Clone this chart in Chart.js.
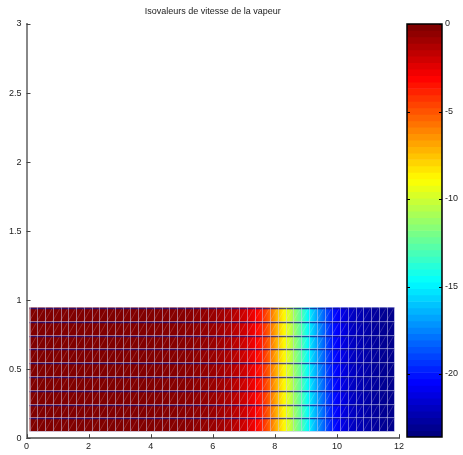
<!DOCTYPE html>
<html>
<head>
<meta charset="utf-8">
<script src="https://cdn.jsdelivr.net/npm/chart.js@4.4.1/dist/chart.umd.min.js"></script>
<style>
    html, body { margin: 0; padding: 0; background: #fff; }
    #wrap { position: relative; width: 463px; height: 455px; }
    #meshChart { position: absolute; left: 0; top: 0; }
    #cbarChart { position: absolute; left: 400px; top: 0; }
</style>
</head>
<body>
<div id="wrap">
    <canvas id="meshChart" width="463" height="455"></canvas>
    <canvas id="cbarChart" width="63" height="455"></canvas>
</div>
<script>
// ==================================================
// 1. DATA
// ==================================================
const chartTitle = 'Isovaleurs de vitesse de la vapeur';

// mesh nodes (x, y) and vapour speed at each x node
const meshX = [0.10, 0.35, 0.60, 0.85, 1.10, 1.35, 1.60, 1.85, 2.10, 2.35, 2.60, 2.85,
               3.10, 3.35, 3.60, 3.85, 4.10, 4.35, 4.60, 4.85, 5.10, 5.35, 5.60, 5.85,
               6.10, 6.35, 6.60, 6.85, 7.10, 7.35, 7.60, 7.85, 8.10, 8.35, 8.60, 8.85,
               9.10, 9.35, 9.60, 9.85, 10.10, 10.35, 10.60, 10.85, 11.10, 11.35, 11.60, 11.85];
const meshY = [0.05, 0.15, 0.25, 0.35, 0.45, 0.55, 0.65, 0.75, 0.85, 0.95];
const meshV = [0, 0, 0, 0, 0, 0, 0, 0, 0, -0.01, -0.01, -0.02,
               -0.02, -0.03, -0.04, -0.05, -0.07, -0.09, -0.12, -0.16, -0.21, -0.27, -0.36, -0.48,
               -0.64, -0.85, -1.1, -1.5, -2.0, -2.7, -3.8, -5.4, -7.4, -9.1, -10.9, -12.8,
               -15.0, -16.8, -18.5, -20.1, -21.0, -21.7, -22.2, -22.5, -22.8, -23.0, -23.2, -23.3];

// axes
const xTicks = [0, 2, 4, 6, 8, 10, 12];
const yTicks = [0, 0.5, 1, 1.5, 2, 2.5, 3];
const yTickLabels = ['0', '0.5', '1', '1.5', '2', '2.5', '3'];

// colour bar
const cbarMin = -23.6;
const cbarMax = 0;
const cbarTicks = [0, -5, -10, -15, -20];
const cbarLevels = 64;

// ==================================================
// 2. HELPERS
// ==================================================
const FONT = '"Liberation Sans", Arial, sans-serif';

function clamp01(v) { return Math.max(0, Math.min(1, v)); }

function jet(t) {
    const r = clamp01(1.5 - Math.abs(4 * t - 3));
    const g = clamp01(1.5 - Math.abs(4 * t - 2));
    const b = clamp01(1.5 - Math.abs(4 * t - 1));
    return `rgb(${Math.round(r * 255)},${Math.round(g * 255)},${Math.round(b * 255)})`;
}

function colorOf(v) {
    return jet(clamp01((v - cbarMin) / (cbarMax - cbarMin)));
}

// ==================================================
// 3. PLUGINS
// ==================================================
const meshPlugin = {
    id: 'mesh',
    beforeDatasetsDraw(chart) {
        const { ctx, scales: { x, y } } = chart;
        const yt = y.getPixelForValue(meshY[meshY.length - 1]);
        const yb = y.getPixelForValue(meshY[0]);
        const xl = x.getPixelForValue(meshX[0]);
        const xr = x.getPixelForValue(meshX[meshX.length - 1]);
        ctx.save();

        // --- cells (interpolated shading) ---
        for (let i = 0; i < meshX.length - 1; i++) {
            const x0 = x.getPixelForValue(meshX[i]);
            const x1 = x.getPixelForValue(meshX[i + 1]);
            const grad = ctx.createLinearGradient(x0, 0, x1, 0);
            for (let s = 0; s <= 4; s++) {
                const f = s / 4;
                grad.addColorStop(f, colorOf(meshV[i] + (meshV[i + 1] - meshV[i]) * f));
            }
            ctx.fillStyle = grad;
            const w = (i < meshX.length - 2) ? x1 - x0 + 0.6 : x1 - x0;
            ctx.fillRect(x0, yt, w, yb - yt);
        }

        // --- diagonals ---
        ctx.strokeStyle = 'rgba(255,230,230,0.28)';
        ctx.lineWidth = 0.7;
        ctx.beginPath();
        for (let i = 0; i < meshX.length - 1; i++) {
            for (let j = 0; j < meshY.length - 1; j++) {
                ctx.moveTo(x.getPixelForValue(meshX[i]), y.getPixelForValue(meshY[j]));
                ctx.lineTo(x.getPixelForValue(meshX[i + 1]), y.getPixelForValue(meshY[j + 1]));
            }
        }
        ctx.stroke();

        // --- dark band under each row top ---
        ctx.strokeStyle = 'rgba(20,20,140,0.75)';
        ctx.lineWidth = 1.2;
        ctx.beginPath();
        meshY.slice(1).forEach(v => {
            const py = Math.round(y.getPixelForValue(v)) + 1.6;
            ctx.moveTo(xl, py);
            ctx.lineTo(xr, py);
        });
        ctx.stroke();

        // --- vertical edges ---
        ctx.strokeStyle = 'rgba(200,200,235,0.55)';
        ctx.lineWidth = 1;
        ctx.beginPath();
        meshX.forEach(v => {
            const px = Math.round(x.getPixelForValue(v)) + 0.5;
            ctx.moveTo(px, yt);
            ctx.lineTo(px, yb);
        });
        ctx.stroke();

        // --- horizontal edges ---
        ctx.beginPath();
        meshY.forEach(v => {
            const py = Math.round(y.getPixelForValue(v)) + 0.5;
            ctx.moveTo(xl, py);
            ctx.lineTo(xr, py);
        });
        ctx.stroke();

        ctx.restore();
    },
    afterDraw(chart) {
        const { ctx, chartArea: a, scales: { x, y } } = chart;
        ctx.save();
        // inward tick marks
        ctx.strokeStyle = '#444';
        ctx.lineWidth = 1;
        ctx.beginPath();
        xTicks.forEach(v => {
            const px = Math.round(x.getPixelForValue(v)) + 0.5;
            ctx.moveTo(px, a.bottom);
            ctx.lineTo(px, a.bottom - 4);
        });
        yTicks.forEach(v => {
            const py = Math.round(y.getPixelForValue(v)) + 0.5;
            ctx.moveTo(a.left, py);
            ctx.lineTo(a.left + 4, py);
        });
        ctx.stroke();
        // title over the axes
        ctx.fillStyle = '#222';
        ctx.font = '9px ' + FONT;
        ctx.textAlign = 'center';
        ctx.textBaseline = 'middle';
        ctx.fillText(chartTitle, (a.left + a.right) / 2, 12);
        ctx.restore();
    }
};

const cbarFramePlugin = {
    id: 'cbarFrame',
    afterDraw(chart) {
        const { ctx, chartArea: a, scales: { y } } = chart;
        ctx.save();
        ctx.strokeStyle = '#000';
        ctx.lineWidth = 1.5;
        ctx.strokeRect(a.left, a.top, a.right - a.left, a.bottom - a.top);
        ctx.lineWidth = 1;
        ctx.beginPath();
        cbarTicks.forEach(v => {
            const py = Math.round(y.getPixelForValue(v)) + 0.5;
            ctx.moveTo(a.left, py);
            ctx.lineTo(a.left + 3, py);
            ctx.moveTo(a.right, py);
            ctx.lineTo(a.right - 3, py);
        });
        ctx.stroke();
        ctx.restore();
    }
};

// ==================================================
// 4. CHARTS
// ==================================================
new Chart(document.getElementById('meshChart'), {
    type: 'scatter',
    data: { datasets: [{ data: [], pointRadius: 0 }] },
    options: {
        responsive: false,
        animation: false,
        layout: { padding: { left: 4, right: 64, top: 24, bottom: 0 } },
        plugins: {
            legend: { display: false },
            title: { display: false },
            tooltip: { enabled: false }
        },
        scales: {
            x: {
                type: 'linear',
                min: 0,
                max: 12,
                afterBuildTicks: s => { s.ticks = xTicks.map(v => ({ value: v })); },
                ticks: { color: '#222', font: { size: 9, family: FONT }, padding: 3, maxRotation: 0 },
                grid: { display: false, drawTicks: false },
                border: { color: '#777', width: 2 }
            },
            y: {
                type: 'linear',
                min: 0,
                max: 3,
                afterBuildTicks: s => { s.ticks = yTicks.map(v => ({ value: v })); },
                ticks: {
                    color: '#222',
                    font: { size: 9, family: FONT },
                    padding: 5,
                    callback: (v, i) => yTickLabels[i]
                },
                grid: { display: false, drawTicks: false },
                border: { color: '#888', width: 2 }
            }
        }
    },
    plugins: [meshPlugin]
});

const cbarStep = (cbarMax - cbarMin) / cbarLevels;
const cbarDatasets = [];
for (let i = 0; i < cbarLevels; i++) {
    cbarDatasets.push({
        data: [-cbarStep],
        backgroundColor: jet(1 - i / (cbarLevels - 1)),
        borderWidth: 0,
        barPercentage: 1,
        categoryPercentage: 1
    });
}

new Chart(document.getElementById('cbarChart'), {
    type: 'bar',
    data: { labels: [''], datasets: cbarDatasets },
    options: {
        responsive: false,
        animation: false,
        layout: { padding: { left: 7, right: 2, top: 24, bottom: 18 } },
        plugins: {
            legend: { display: false },
            tooltip: { enabled: false }
        },
        scales: {
            x: { display: false, stacked: true },
            y: {
                stacked: true,
                position: 'right',
                min: cbarMin,
                max: cbarMax,
                afterBuildTicks: s => { s.ticks = cbarTicks.map(v => ({ value: v })); },
                ticks: { color: '#222', font: { size: 9, family: FONT }, padding: 3 },
                grid: { display: false, drawTicks: false },
                border: { display: false }
            }
        }
    },
    plugins: [cbarFramePlugin]
});
</script>
</body>
</html>
